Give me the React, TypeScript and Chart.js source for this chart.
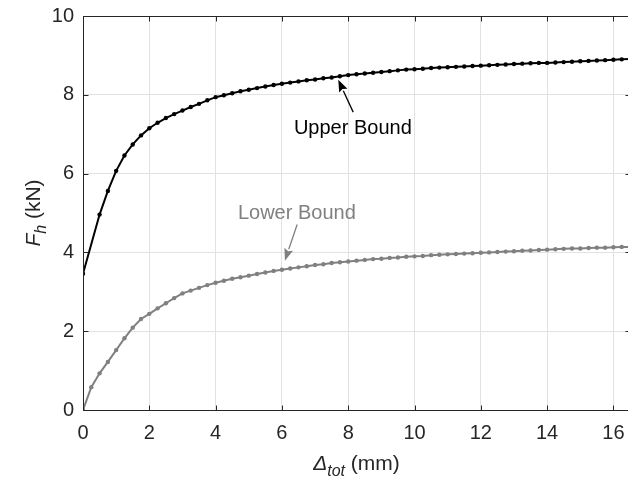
import { useEffect, useRef } from "react";
import { Chart, registerables } from "chart.js";

Chart.register(...registerables);

const displacement = [
  0, 0.25, 0.5, 0.75, 1, 1.25, 1.5, 1.75, 2, 2.25, 2.5, 2.75, 3, 3.25, 3.5, 3.75,
  4, 4.25, 4.5, 4.75, 5, 5.25, 5.5, 5.75, 6, 6.25, 6.5, 6.75, 7, 7.25, 7.5, 7.75,
  8, 8.25, 8.5, 8.75, 9, 9.25, 9.5, 9.75, 10, 10.25, 10.5, 10.75, 11, 11.25, 11.5, 11.75,
  12, 12.25, 12.5, 12.75, 13, 13.25, 13.5, 13.75, 14, 14.25, 14.5, 14.75, 15, 15.25, 15.5, 15.75,
  16, 16.25, 16.5,
];

const upperBound = [
  3.46, null, 4.96, 5.56, 6.07, 6.46, 6.74, 6.97, 7.15, 7.29, 7.41, 7.51, 7.6, 7.69, 7.77, 7.86,
  7.94, 7.99, 8.04, 8.09, 8.13, 8.17, 8.21, 8.25, 8.28, 8.31, 8.34, 8.37, 8.39, 8.42, 8.44, 8.47,
  8.5, 8.52, 8.54, 8.56, 8.58, 8.6, 8.62, 8.64, 8.65, 8.66, 8.68, 8.69, 8.7, 8.71, 8.72, 8.73,
  8.74, 8.75, 8.76, 8.77, 8.78, 8.79, 8.8, 8.81, 8.81, 8.82, 8.83, 8.84, 8.85, 8.86, 8.87, 8.88,
  8.89, 8.9, 8.91,
];

const lowerBound = [
  0, 0.58, 0.93, 1.22, 1.52, 1.82, 2.09, 2.31, 2.44, 2.58, 2.71, 2.84, 2.96, 3.03, 3.1, 3.17,
  3.23, 3.28, 3.33, 3.37, 3.41, 3.45, 3.49, 3.53, 3.56, 3.59, 3.62, 3.65, 3.68, 3.7, 3.73, 3.75,
  3.77, 3.79, 3.81, 3.83, 3.84, 3.86, 3.87, 3.89, 3.9, 3.91, 3.93, 3.94, 3.95, 3.96, 3.97, 3.98,
  3.99, 4.0, 4.01, 4.02, 4.03, 4.04, 4.05, 4.06, 4.07, 4.08, 4.09, 4.1, 4.1, 4.11, 4.12, 4.12,
  4.13, 4.14, 4.14,
];

const xTicks = [0, 2, 4, 6, 8, 10, 12, 14, 16];
const yTicks = [0, 2, 4, 6, 8, 10];

const seriesNames = ["Upper Bound", "Lower Bound"];
// annotation: label anchor (x, y baseline) and arrow tail -> tip, in data units
const labelAnchors = [
  [8.14, 7.0],
  [6.45, 4.85],
];
const arrowTails = [
  [8.15, 7.56],
  [6.46, 4.71],
];
const arrowTips = [
  [7.7, 8.38],
  [6.09, 3.79],
];

const FONT = "'Liberation Sans', Arial, Helvetica, sans-serif";
const AXIS_COLOR = "#262626";
const GRID_COLOR = "#e2e2e2";
const UPPER_COLOR = "#000000";
const LOWER_COLOR = "#808080";

type Part = { text: string; size: number; italic?: boolean; dy?: number };

function drawRich(ctx: CanvasRenderingContext2D, parts: Part[], cx: number, cy: number) {
  let total = 0;
  const widths = parts.map((p) => {
    ctx.font = `${p.italic ? "italic " : ""}${p.size}px ${FONT}`;
    const w = ctx.measureText(p.text).width;
    total += w;
    return w;
  });
  let x = cx - total / 2;
  ctx.textAlign = "left";
  ctx.textBaseline = "alphabetic";
  parts.forEach((p, i) => {
    ctx.font = `${p.italic ? "italic " : ""}${p.size}px ${FONT}`;
    ctx.fillText(p.text, x, cy + (p.dy || 0));
    x += widths[i];
  });
}

function drawArrow(
  ctx: CanvasRenderingContext2D,
  x1: number,
  y1: number,
  x2: number,
  y2: number,
  color: string
) {
  const ang = Math.atan2(y2 - y1, x2 - x1);
  const headLen = 12;
  const headW = 4.5;
  const bx = x2 - headLen * Math.cos(ang);
  const by = y2 - headLen * Math.sin(ang);
  ctx.strokeStyle = color;
  ctx.fillStyle = color;
  ctx.lineWidth = 1.3;
  ctx.beginPath();
  ctx.moveTo(x1, y1);
  ctx.lineTo(bx, by);
  ctx.stroke();
  ctx.beginPath();
  ctx.moveTo(x2, y2);
  ctx.lineTo(bx + headW * Math.sin(ang), by - headW * Math.cos(ang));
  ctx.lineTo(bx + 2 * Math.cos(ang), by + 2 * Math.sin(ang));
  ctx.lineTo(bx - headW * Math.sin(ang), by + headW * Math.cos(ang));
  ctx.closePath();
  ctx.fill();
}

const chromePlugin = {
  id: "chrome",
  afterDraw(chart: any) {
    const { ctx, chartArea: a, scales } = chart;
    const xs = scales.x;
    const ys = scales.y;
    ctx.save();

    // axes box
    ctx.strokeStyle = AXIS_COLOR;
    ctx.lineWidth = 1;
    const L = Math.round(a.left) + 0.5;
    const R = Math.round(a.right) + 0.5;
    const T = Math.round(a.top) + 0.5;
    const B = Math.round(a.bottom) + 0.5;
    ctx.beginPath();
    ctx.moveTo(L, T);
    ctx.lineTo(R, T);
    ctx.lineTo(R, B);
    ctx.lineTo(L, B);
    ctx.closePath();
    ctx.stroke();

    // inward ticks
    ctx.beginPath();
    xTicks.forEach((v) => {
      const px = Math.round(xs.getPixelForValue(v)) + 0.5;
      ctx.moveTo(px, B);
      ctx.lineTo(px, B - 5);
      ctx.moveTo(px, T);
      ctx.lineTo(px, T + 5);
    });
    yTicks.forEach((v) => {
      const py = Math.round(ys.getPixelForValue(v)) + 0.5;
      ctx.moveTo(L, py);
      ctx.lineTo(L + 5, py);
      ctx.moveTo(R, py);
      ctx.lineTo(R - 5, py);
    });
    ctx.stroke();

    // annotations
    const colors = [UPPER_COLOR, LOWER_COLOR];
    seriesNames.forEach((name, i) => {
      drawArrow(
        ctx,
        xs.getPixelForValue(arrowTails[i][0]),
        ys.getPixelForValue(arrowTails[i][1]),
        xs.getPixelForValue(arrowTips[i][0]),
        ys.getPixelForValue(arrowTips[i][1]),
        colors[i]
      );
      ctx.fillStyle = colors[i];
      drawRich(
        ctx,
        [{ text: name, size: 20 }],
        xs.getPixelForValue(labelAnchors[i][0]),
        ys.getPixelForValue(labelAnchors[i][1])
      );
    });

    // axis titles
    ctx.fillStyle = AXIS_COLOR;
    drawRich(
      ctx,
      [
        { text: "\u0394", size: 21, italic: true },
        { text: "tot", size: 16, italic: true, dy: 6 },
        { text: " (mm)", size: 21 },
      ],
      (a.left + a.right) / 2,
      470
    );
    ctx.save();
    ctx.translate(40, (a.top + a.bottom) / 2);
    ctx.rotate(-Math.PI / 2);
    drawRich(
      ctx,
      [
        { text: "F", size: 21, italic: true },
        { text: "h", size: 16, italic: true, dy: 6 },
        { text: " (kN)", size: 21 },
      ],
      0,
      0
    );
    ctx.restore();

    ctx.restore();
  },
};

export default function App() {
  const ref = useRef<HTMLCanvasElement | null>(null);

  useEffect(() => {
    if (!ref.current) return;
    const chart = new Chart(ref.current, {
      type: "line",
      data: {
        datasets: [
          {
            label: seriesNames[0],
            data: displacement.map((x, i) => ({ x, y: upperBound[i] })) as any,
            borderColor: UPPER_COLOR,
            backgroundColor: UPPER_COLOR,
            borderWidth: 2,
            pointRadius: 2.2,
            pointBorderWidth: 0,
            pointBackgroundColor: UPPER_COLOR,
            spanGaps: true,
            tension: 0,
          },
          {
            label: seriesNames[1],
            data: displacement.map((x, i) => ({ x, y: lowerBound[i] })) as any,
            borderColor: LOWER_COLOR,
            backgroundColor: LOWER_COLOR,
            borderWidth: 2,
            pointRadius: 2.2,
            pointBorderWidth: 0,
            pointBackgroundColor: LOWER_COLOR,
            spanGaps: true,
            tension: 0,
          },
        ],
      },
      options: {
        animation: false,
        responsive: false,
        devicePixelRatio: 1,
        layout: { padding: { left: 0, right: 4, top: 16, bottom: 0 } },
        plugins: {
          legend: { display: false },
          tooltip: { enabled: false },
        },
        scales: {
          x: {
            type: "linear",
            min: 0,
            max: 16.5,
            afterFit: (s: any) => {
              s.height = 73;
              s.paddingLeft = 0;
              s.paddingRight = 0;
            },
            grid: { color: GRID_COLOR, drawTicks: false, lineWidth: 1 },
            border: { display: false },
            ticks: {
              stepSize: 2,
              includeBounds: false,
              padding: 11,
              maxRotation: 0,
              color: AXIS_COLOR,
              font: { family: FONT, size: 20 },
            },
          },
          y: {
            type: "linear",
            min: 0,
            max: 10,
            afterFit: (s: any) => {
              s.width = 83;
              s.paddingTop = 0;
              s.paddingBottom = 0;
            },
            grid: { color: GRID_COLOR, drawTicks: false, lineWidth: 1 },
            border: { display: false },
            ticks: {
              stepSize: 2,
              padding: 9,
              color: AXIS_COLOR,
              font: { family: FONT, size: 20 },
            },
          },
        },
      },
      plugins: [chromePlugin],
    });
    return () => chart.destroy();
  }, []);

  return (
    <div
      style={{
        position: "fixed",
        left: 0,
        top: 0,
        width: 628,
        height: 483,
        overflow: "hidden",
        background: "#ffffff",
      }}
    >
      <canvas ref={ref} width={634} height={483} style={{ display: "block" }} />
    </div>
  );
}
